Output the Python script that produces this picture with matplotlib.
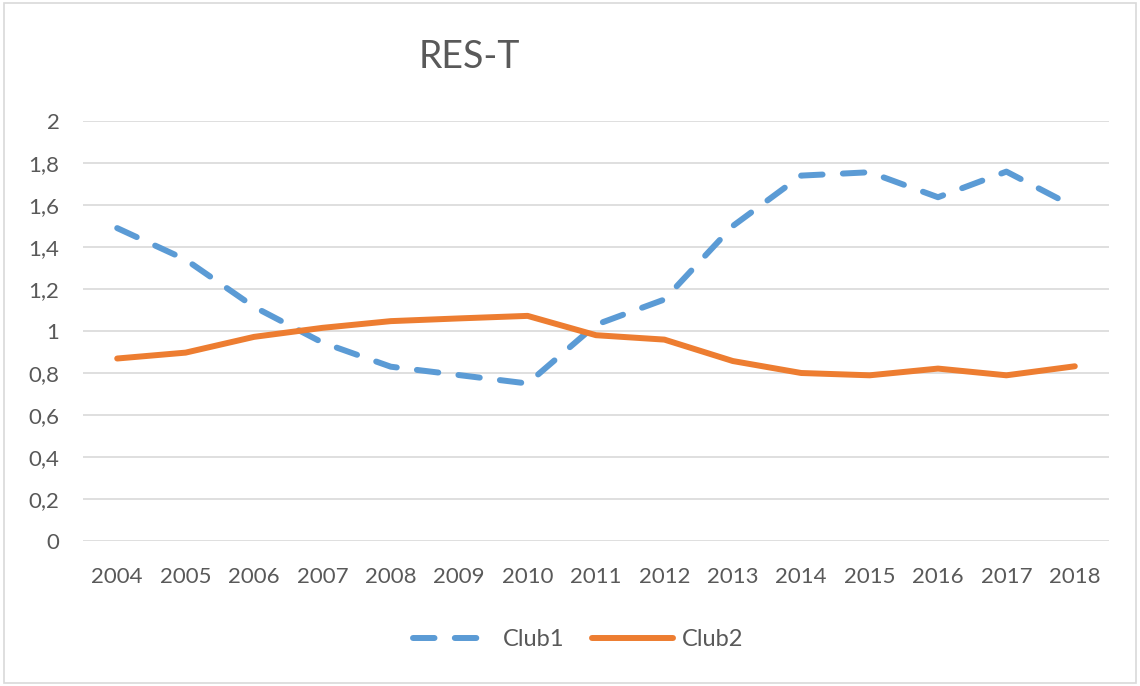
import matplotlib
matplotlib.use("Agg")
import matplotlib.pyplot as plt
from matplotlib.patches import Rectangle

years = ["2004", "2005", "2006", "2007", "2008", "2009", "2010", "2011",
         "2012", "2013", "2014", "2015", "2016", "2017", "2018"]
club1 = [1.49, 1.34, 1.115, 0.945, 0.83, 0.79, 0.75, 1.03, 1.15, 1.50,
         1.74, 1.756, 1.637, 1.759, 1.59]
club2 = [0.869, 0.897, 0.972, 1.015, 1.047, 1.06, 1.072, 0.98, 0.959, 0.857,
         0.80, 0.789, 0.821, 0.789, 0.832]
yticks = [0, 0.2, 0.4, 0.6, 0.8, 1.0, 1.2, 1.4, 1.6, 1.8, 2.0]
ytick_labels = ["0", "0,2", "0,4", "0,6", "0,8", "1", "1,2", "1,4", "1,6", "1,8", "2"]

plt.rcParams['font.family'] = ['Lato', 'DejaVu Sans']
text_color = "#595959"

fig = plt.figure(figsize=(11.4, 6.86), dpi=100)
ax = fig.add_axes([83/1140, 1-541/686, (1109-83)/1140, (541-121)/686])

x = list(range(len(years)))
l1, = ax.plot(x, club1, color="#5B9BD5", lw=4.3, dashes=(3.6, 3.4),
              dash_capstyle="round", solid_joinstyle="round", label="Club1", zorder=3)
l2, = ax.plot(x, club2, color="#ED7D31", lw=4.3, solid_capstyle="round",
              solid_joinstyle="round", label="Club2", zorder=3)

ax.set_xlim(-0.5, len(years) - 0.5)
ax.set_ylim(0, 2)
ax.set_yticks(yticks)
ax.set_yticklabels(ytick_labels)
ax.set_xticks(x)
ax.set_xticklabels(years)
ax.grid(axis="y", color="#d9d9d9", lw=1.2)
ax.set_axisbelow(True)
for s in ax.spines.values():
    s.set_visible(False)
ax.tick_params(axis="both", length=0, labelsize=16, colors=text_color)
ax.tick_params(axis="y", pad=17)
ax.tick_params(axis="x", pad=19)

fig.text(469/1140, 1-57/686, "RES-T", fontsize=27, color=text_color,
         ha="center", va="center")

leg = fig.legend(handles=[l1, l2], loc="center", bbox_to_anchor=(578/1140, 1-640/686),
                 ncol=2, frameon=False, fontsize=17, handlelength=3.4,
                 columnspacing=1.2, handletextpad=0.4)
for t in leg.get_texts():
    t.set_color(text_color)

fig.patches.append(Rectangle((4/1140, 3/686), 1-8/1140, 1-6/686, transform=fig.transFigure,
                             fill=False, edgecolor="#d9d9d9", lw=1.2))

fig.savefig("out.png", dpi=100)
